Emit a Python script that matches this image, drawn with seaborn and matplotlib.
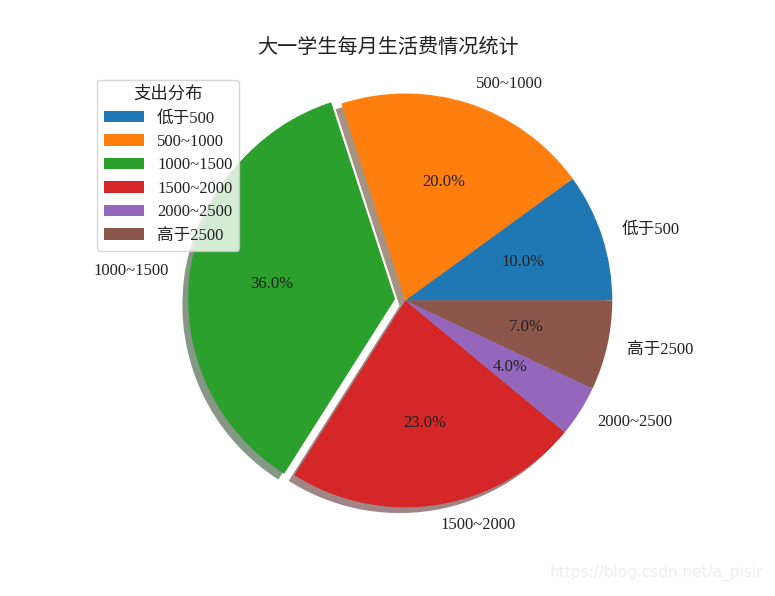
import matplotlib.pyplot as plt
import seaborn as sns

labels = ['低于500', '500~1000', '1000~1500', '1500~2000', '2000~2500', '高于2500']
shares = [10, 20, 36, 23, 4, 7]
explode = [0, 0, 0.05, 0, 0, 0]

sns.set_theme(style='white')
plt.rcParams['font.family'] = ['Liberation Serif', 'Noto Sans CJK SC']
plt.rcParams['text.color'] = '#222222'

colors = sns.color_palette('tab10', len(shares))

fig = plt.figure(figsize=(7.75, 5.96), dpi=100)
ax = fig.add_axes([0.189, 0.062, 0.668, 0.868])

wedges, texts, autotexts = ax.pie(shares, labels=labels, colors=colors, explode=explode,
                                  autopct='%.1f%%', shadow=True,
                                  wedgeprops={'linewidth': 0},
                                  textprops={'fontsize': 12})
ax.set_aspect('equal')

fig.suptitle('大一学生每月生活费情况统计', fontsize=14.5, y=0.935)

leg = ax.legend(wedges, labels, title='支出分布', loc='upper left',
                bbox_to_anchor=(97 / 775, 1 - 80 / 596), bbox_transform=fig.transFigure,
                borderaxespad=0, fontsize=12, title_fontsize=12.5, frameon=True,
                labelspacing=0.45, handlelength=2.4,
                framealpha=0.8, edgecolor='#cccccc', fancybox=True)

fig.text(0.985, 0.025, 'https://blog.csdn.net/a_pisir', ha='right', va='bottom',
         fontsize=11, color='#eeeeee', family='DejaVu Sans')

plt.savefig('out.png', dpi=100)
